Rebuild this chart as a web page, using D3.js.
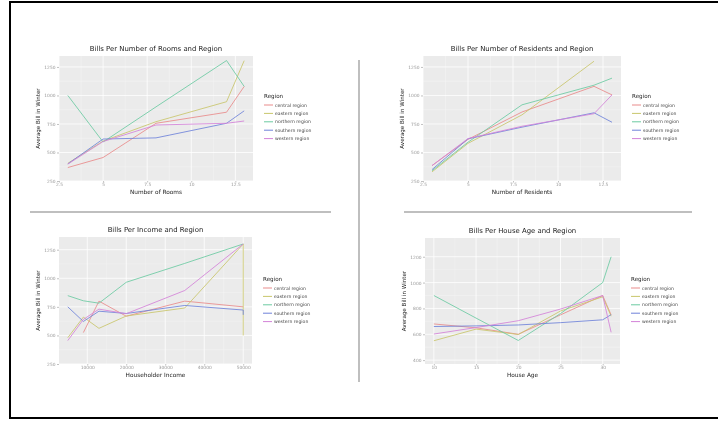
<!DOCTYPE html>
<html>
<head>
<meta charset="utf-8">
<script src="https://cdn.jsdelivr.net/npm/d3@7"></script>
<style>
  body { margin: 0; background: #fff; }
  svg { display: block; font-family: "DejaVu Sans", sans-serif; will-change: transform; }
</style>
</head>
<body>
<script>
// legend names and colours
var regions = ["central region", "eastern region", "northern region", "southern region", "western region"];
var regionColours = ["#e98b8b", "#c9c66c", "#6ccaa2", "#6f82d9", "#d383d8"];

// Bills per number of rooms
var roomsX = [3, 5, 8, 12, 13];
var roomsCentral = [368, 456, 756, 853, 1079];
var roomsEastern = [405, 600, 770, 945, 1305];
var roomsNorthern = [1000, 592, 900, 1306, 1079];
var roomsSouthern = [400, 618, 628, 756, 865];
var roomsWestern = [398, 596, 741, 756, 776];

// Bills per number of residents
var resX = [3, 5, 8, 12, 13];
var resCentral = [385, 615, 855, 1080, 1005];
var resEastern = [330, 580, 830, 1300, null];
var resNorthern = [340, 590, 918, 1090, 1152];
var resSouthern = [350, 620, 722, 848, 765];
var resWestern = [385, 622, 730, 840, 1005];

// Bills per householder income
var incomeX = [5000, 9000, 13000, 20000, 35000, 50000, 50000];
var incomeCentral = [null, 525, 800, 668, 800, 750, null];
var incomeEastern = [480, 660, 562, 670, 740, 1300, 500];
var incomeNorthern = [848, 803, 782, 965, 1130, 1300, null];
var incomeSouthern = [750, 622, 712, 692, 762, 722, 680];
var incomeWestern = [455, 640, 730, 690, 893, 1300, null];

// Bills per house age
var ageX = [10, 15, 20, 25, 30, 31];
var ageCentral = [680, 650, 600, 750, 900, 750];
var ageEastern = [550, 640, 598, 780, 890, 740];
var ageNorthern = [900, 725, 552, 760, 1000, 1200];
var ageSouthern = [660, 665, 672, 690, 712, 752];
var ageWestern = [602, 652, 705, 795, 900, 615];

var w = 718;
var h = 421;

var svg = d3.select("body").append("svg")
  .attr("width", w)
  .attr("height", h);

// outer frame
svg.append("path")
  .attr("d", "M 800 2 L 10 2 L 10 418 L 800 418")
  .attr("fill", "none")
  .attr("stroke", "#000")
  .attr("stroke-width", 2);

// dividers
svg.append("line").attr("x1", 30).attr("x2", 331).attr("y1", 212).attr("y2", 212)
  .attr("stroke", "#aaa").attr("stroke-width", 1.5);
svg.append("line").attr("x1", 404).attr("x2", 692).attr("y1", 212).attr("y2", 212)
  .attr("stroke", "#aaa").attr("stroke-width", 1.5);
svg.append("line").attr("x1", 359).attr("x2", 359).attr("y1", 60).attr("y2", 382)
  .attr("stroke", "#aaa").attr("stroke-width", 1.5);

function drawPanel(p) {
  var g = svg.append("g");

  var xScale = d3.scaleLinear().domain(p.xDomain).range([p.left, p.right]);
  var yScale = d3.scaleLinear().domain(p.yDomain).range([p.bottom, p.top]);

  g.append("rect")
    .attr("x", p.left).attr("y", p.top)
    .attr("width", p.right - p.left).attr("height", p.bottom - p.top)
    .attr("fill", "#ebebeb");

  // minor grid
  var xMinor = [];
  for (var i = 0; i < p.xTicks.length - 1; i++) xMinor.push((p.xTicks[i] + p.xTicks[i + 1]) / 2);
  var yMinor = [];
  for (var j = 0; j < p.yTicks.length - 1; j++) yMinor.push((p.yTicks[j] + p.yTicks[j + 1]) / 2);

  g.selectAll(".xminor").data(xMinor).enter().append("line")
    .attr("x1", function(d) { return xScale(d); }).attr("x2", function(d) { return xScale(d); })
    .attr("y1", p.top).attr("y2", p.bottom)
    .attr("stroke", "#f4f4f4").attr("stroke-width", 0.5);
  g.selectAll(".yminor").data(yMinor).enter().append("line")
    .attr("y1", function(d) { return yScale(d); }).attr("y2", function(d) { return yScale(d); })
    .attr("x1", p.left).attr("x2", p.right)
    .attr("stroke", "#f4f4f4").attr("stroke-width", 0.5);

  // major grid
  g.selectAll(".xmajor").data(p.xTicks).enter().append("line")
    .attr("x1", function(d) { return xScale(d); }).attr("x2", function(d) { return xScale(d); })
    .attr("y1", p.top).attr("y2", p.bottom)
    .attr("stroke", "#fff").attr("stroke-width", 0.8);
  g.selectAll(".ymajor").data(p.yTicks).enter().append("line")
    .attr("y1", function(d) { return yScale(d); }).attr("y2", function(d) { return yScale(d); })
    .attr("x1", p.left).attr("x2", p.right)
    .attr("stroke", "#fff").attr("stroke-width", 0.8);

  // axes
  var xAxis = g.append("g")
    .attr("transform", "translate(0," + p.bottom + ")")
    .call(d3.axisBottom(xScale).tickValues(p.xTicks).tickSize(1.5).tickPadding(0.5).tickFormat(p.xFormat));
  var yAxis = g.append("g")
    .attr("transform", "translate(" + p.left + ",0)")
    .call(d3.axisLeft(yScale).tickValues(p.yTicks).tickSize(2).tickPadding(1.5).tickFormat(d3.format("d")));
  [xAxis, yAxis].forEach(function(a) {
    a.select(".domain").remove();
    a.selectAll("line").attr("stroke", "#999").attr("stroke-width", 0.6);
    a.selectAll("text").attr("fill", "#999").style("font-size", "4.4px").style("font-family", "DejaVu Sans");
  });

  // lines
  var line = d3.line()
    .defined(function(d) { return d[1] != null; })
    .x(function(d) { return xScale(d[0]); })
    .y(function(d) { return yScale(d[1]); });

  p.series.forEach(function(s, k) {
    var pts = p.x.map(function(xv, i) { return [xv, s[i]]; });
    g.append("path")
      .attr("d", line(pts))
      .attr("fill", "none")
      .attr("stroke", regionColours[k])
      .attr("stroke-opacity", 0.85)
      .attr("stroke-width", 1);
  });

  // titles
  g.append("text")
    .attr("x", (p.left + p.right) / 2).attr("y", p.top - 5)
    .attr("text-anchor", "middle")
    .style("font-size", "6.9px").attr("fill", "#222")
    .text(p.title);
  g.append("text")
    .attr("x", (p.left + p.right) / 2).attr("y", p.bottom + 12.5)
    .attr("text-anchor", "middle")
    .style("font-size", "5.8px").attr("fill", "#222")
    .text(p.xLabel);
  g.append("text")
    .attr("transform", "translate(" + (p.left - 19) + "," + ((p.top + p.bottom) / 2) + ") rotate(-90)")
    .attr("text-anchor", "middle")
    .style("font-size", "5.6px").attr("fill", "#222")
    .text("Average Bill in Winter");

  // legend
  var lg = g.append("g").attr("transform", "translate(" + (p.right + 11) + "," + p.legendY + ")");
  lg.append("text").attr("x", 0).attr("y", 0)
    .style("font-size", "5.6px").attr("fill", "#222").text("Region");
  regions.forEach(function(r, k) {
    lg.append("line")
      .attr("x1", 0).attr("x2", 9)
      .attr("y1", 7 + k * 8.4).attr("y2", 7 + k * 8.4)
      .attr("stroke", regionColours[k]).attr("stroke-width", 1);
    lg.append("text")
      .attr("x", 11).attr("y", 8.6 + k * 8.4)
      .style("font-size", "4.6px").attr("fill", "#444")
      .text(r);
  });
}

var smallFmt = function(d) { return d3.format("~g")(d); };

drawPanel({
  title: "Bills Per Number of Rooms and Region", xLabel: "Number of Rooms",
  left: 59, right: 253, top: 56, bottom: 181, legendY: 98,
  xDomain: [2.5, 13.5], yDomain: [250, 1346],
  xTicks: [2.5, 5, 7.5, 10, 12.5], yTicks: [250, 500, 750, 1000, 1250], xFormat: smallFmt,
  x: roomsX, series: [roomsCentral, roomsEastern, roomsNorthern, roomsSouthern, roomsWestern]
});

drawPanel({
  title: "Bills Per Number of Residents and Region", xLabel: "Number of Residents",
  left: 423, right: 621, top: 56, bottom: 181, legendY: 98,
  xDomain: [2.5, 13.5], yDomain: [250, 1346],
  xTicks: [2.5, 5, 7.5, 10, 12.5], yTicks: [250, 500, 750, 1000, 1250], xFormat: smallFmt,
  x: resX, series: [resCentral, resEastern, resNorthern, resSouthern, resWestern]
});

drawPanel({
  title: "Bills Per Income and Region", xLabel: "Householder Income",
  left: 59, right: 252, top: 237, bottom: 364, legendY: 281,
  xDomain: [2750, 52250], yDomain: [250, 1361],
  xTicks: [10000, 20000, 30000, 40000, 50000], yTicks: [250, 500, 750, 1000, 1250], xFormat: d3.format("d"),
  x: incomeX, series: [incomeCentral, incomeEastern, incomeNorthern, incomeSouthern, incomeWestern]
});

drawPanel({
  title: "Bills Per House Age and Region", xLabel: "House Age",
  left: 425, right: 620, top: 238, bottom: 364, legendY: 281,
  xDomain: [8.95, 32.05], yDomain: [370, 1345],
  xTicks: [10, 15, 20, 25, 30], yTicks: [400, 600, 800, 1000, 1200], xFormat: d3.format("d"),
  x: ageX, series: [ageCentral, ageEastern, ageNorthern, ageSouthern, ageWestern]
});
</script>
</body>
</html>
